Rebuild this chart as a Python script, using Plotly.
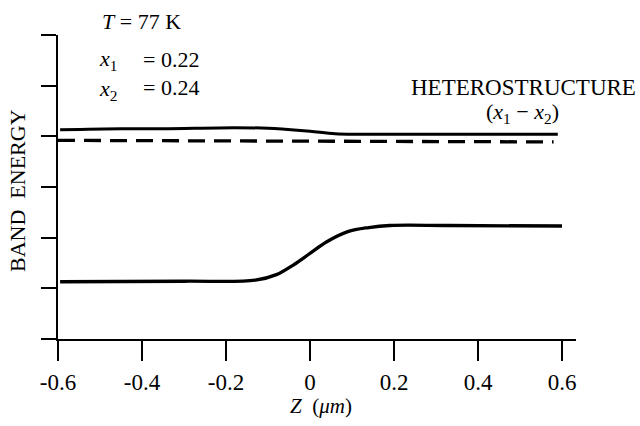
import plotly.graph_objects as go

# ---- data ----
z_upper = [-0.595, -0.45, -0.35, -0.18, -0.10, -0.06, 0.0, 0.06, 0.12, 0.33, 0.59]
e_upper = [4.13, 4.15, 4.15, 4.17, 4.16, 4.14, 4.10, 4.05, 4.04, 4.04, 4.04]

z_dashed = [-0.6, 0.0, 0.58]
e_dashed = [3.92, 3.905, 3.89]

z_lower = [-0.595, -0.30, -0.13, -0.08, -0.04, 0.0, 0.04, 0.09, 0.14, 0.19, 0.33, 0.60]
e_lower = [1.13, 1.14, 1.16, 1.27, 1.46, 1.69, 1.92, 2.12, 2.20, 2.24, 2.24, 2.23]

x_tickvals = [-0.6, -0.4, -0.2, 0.0, 0.2, 0.4, 0.6]
x_ticktext = ["-0.6", "-0.4", "-0.2", "0", "0.2", "0.4", "0.6"]
y_tickvals = [0, 1, 2, 3, 4, 5, 6]

FONT = "Liberation Serif"

# plot area in pixels
W, H = 640, 426
L, R, T, B = 58, 576, 35, 339


def px(xp):
    return (xp - L) / (R - L)


def py(yp):
    return (B - yp) / (B - T)


fig = go.Figure()
fig.add_trace(go.Scatter(x=z_upper, y=e_upper, mode="lines", line=dict(color="black", width=3, shape="spline")))
fig.add_trace(go.Scatter(x=z_dashed, y=e_dashed, mode="lines", line=dict(color="black", width=3.3, dash="17px,9px")))
fig.add_trace(go.Scatter(x=z_lower, y=e_lower, mode="lines", line=dict(color="black", width=3.3, shape="spline")))

annots = [
    dict(text="<i>T</i> = 77 K", x=px(100), y=py(21), xanchor="left", yanchor="middle", size=22),
    dict(text="<i>x</i><sub>1</sub>", x=px(97), y=py(60), xanchor="left", yanchor="middle", size=22),
    dict(text="= 0.22", x=px(201), y=py(59), xanchor="right", yanchor="middle", size=22),
    dict(text="<i>x</i><sub>2</sub>", x=px(97), y=py(90), xanchor="left", yanchor="middle", size=22),
    dict(text="= 0.24", x=px(201), y=py(88), xanchor="right", yanchor="middle", size=22),
    dict(text="HETEROSTRUCTURE", x=px(638), y=py(87), xanchor="right", yanchor="middle", size=23),
    dict(text="(<i>x</i><sub>1</sub> − <i>x</i><sub>2</sub>)", x=px(522), y=py(113), xanchor="center", yanchor="middle", size=22),
    dict(text="<i>Z</i>  (<i>μm</i>)", x=px(321), y=py(406), xanchor="center", yanchor="middle", size=21),
]
for a in annots:
    fig.add_annotation(text=a["text"], x=a["x"], y=a["y"], xref="paper", yref="paper",
                       xanchor=a["xanchor"], yanchor=a["yanchor"], showarrow=False,
                       font=dict(family=FONT, size=a["size"], color="black"))

fig.add_annotation(text="BAND  ENERGY", x=px(18), y=py(191), xref="paper", yref="paper",
                   xanchor="center", yanchor="middle", textangle=-90, showarrow=False,
                   font=dict(family=FONT, size=22, color="black"))

fig.update_layout(
    width=W, height=H,
    margin=dict(l=L, r=W - R, t=T, b=H - B, pad=0),
    paper_bgcolor="white", plot_bgcolor="white",
    showlegend=False,
    xaxis=dict(range=[-0.6, 0.6 + 14 / 420], tickvals=x_tickvals, ticktext=x_ticktext,
               showline=True, linecolor="black", linewidth=2, ticks="outside", ticklen=20,
               tickwidth=2, tickcolor="black", showgrid=False, zeroline=False,
               tickfont=dict(family=FONT, size=23, color="black"), ticklabelstandoff=1),
    yaxis=dict(range=[0, 6], tickvals=y_tickvals, showticklabels=False,
               showline=True, linecolor="black", linewidth=2, ticks="outside", ticklen=15,
               tickwidth=2, tickcolor="black", showgrid=False, zeroline=False),
)

fig.write_html("out.html")
